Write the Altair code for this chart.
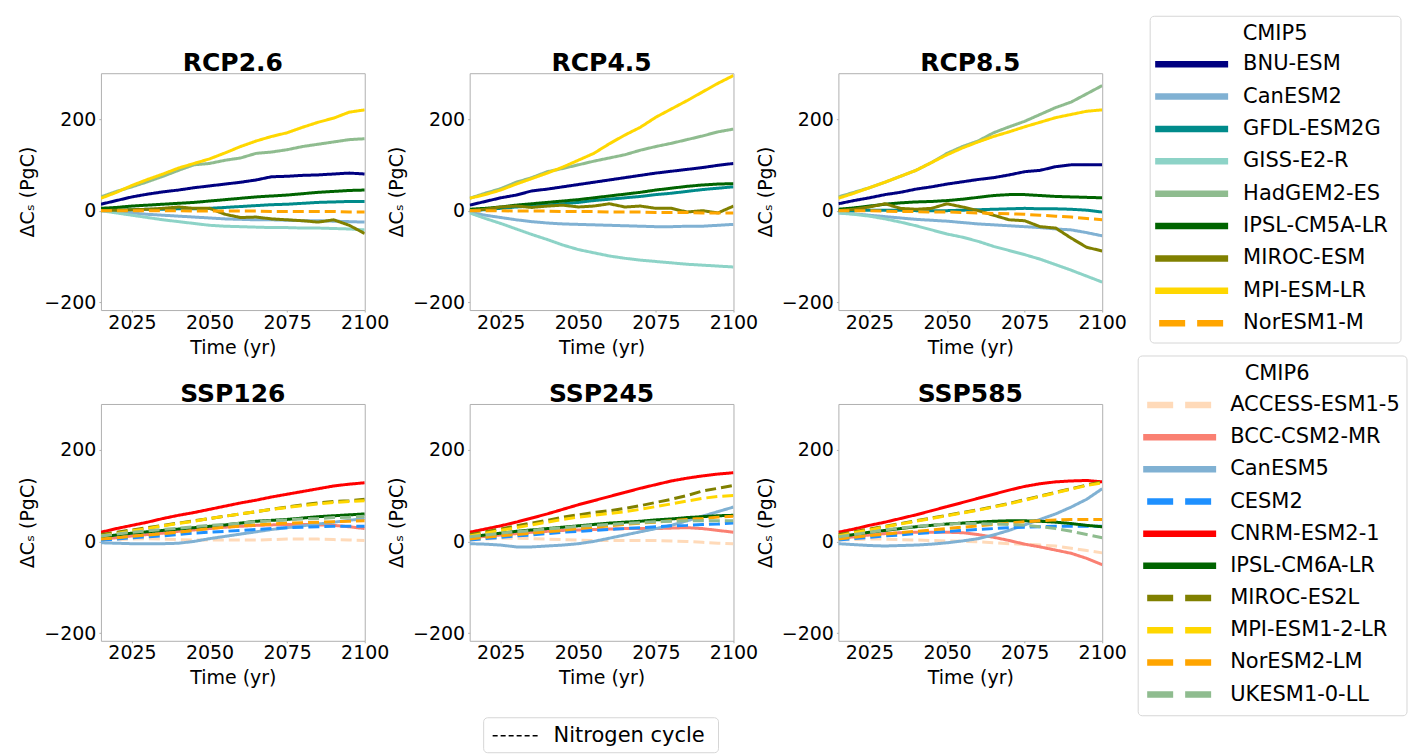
import altair as alt
import pandas as pd

years = list(range(2015, 2101, 5))

cmip5_models = ["BNU-ESM", "CanESM2", "GFDL-ESM2G", "GISS-E2-R", "HadGEM2-ES",
                "IPSL-CM5A-LR", "MIROC-ESM", "MPI-ESM-LR", "NorESM1-M"]
cmip5_colors = ["#000080", "#80b1d3", "#008b8b", "#8dd3c7", "#8fbc8f",
                "#006400", "#808000", "#ffd700", "#ffa500"]
cmip5_dashed = ["NorESM1-M"]

cmip6_models = ["ACCESS-ESM1-5", "BCC-CSM2-MR", "CanESM5", "CESM2", "CNRM-ESM2-1",
                "IPSL-CM6A-LR", "MIROC-ES2L", "MPI-ESM1-2-LR", "NorESM2-LM", "UKESM1-0-LL"]
cmip6_colors = ["#ffdab9", "#fa8072", "#80b1d3", "#1e90ff", "#ff0000",
                "#006400", "#808000", "#ffd700", "#ffa500", "#8fbc8f"]
cmip6_dashed = ["ACCESS-ESM1-5", "CESM2", "MIROC-ES2L", "MPI-ESM1-2-LR", "NorESM2-LM", "UKESM1-0-LL"]

rcp26 = {
    "BNU-ESM":      [14, 22, 30, 36, 41, 45, 50, 54, 58, 62, 67, 74, 75, 77, 78, 80, 82, 80],
    "CanESM2":      [0, -3, -5, -8, -10, -12, -14, -16, -18, -19, -20, -20, -21, -22, -22, -23, -24, -25],
    "GFDL-ESM2G":   [0, 1, 2, 3, 3, 4, 4, 5, 7, 9, 11, 13, 14, 16, 18, 19, 20, 20],
    "GISS-E2-R":    [0, -5, -10, -15, -20, -24, -28, -32, -34, -35, -36, -37, -37, -38, -38, -39, -40, -42],
    "HadGEM2-ES":   [30, 42, 52, 63, 75, 88, 100, 103, 110, 115, 125, 128, 133, 140, 145, 150, 155, 157],
    "IPSL-CM5A-LR": [5, 7, 10, 12, 14, 16, 18, 21, 24, 27, 30, 32, 34, 37, 40, 42, 44, 45],
    "MIROC-ESM":    [0, 1, 2, 3, 5, 8, 5, 5, -8, -15, -14, -18, -20, -22, -25, -20, -32, -50],
    "MPI-ESM-LR":   [27, 40, 55, 68, 80, 93, 103, 113, 126, 140, 152, 162, 170, 182, 193, 202, 215, 220],
    "NorESM1-M":    [0, 0, 0, 0, 0, 0, -1, -1, -1, -1, -1, -2, -2, -2, -2, -2, -3, -3],
}
rcp45 = {
    "BNU-ESM":      [12, 20, 28, 34, 43, 47, 52, 57, 62, 67, 72, 77, 82, 86, 90, 94, 99, 103],
    "CanESM2":      [-3, -10, -15, -20, -24, -27, -29, -30, -31, -32, -33, -34, -35, -35, -34, -34, -32, -30],
    "GFDL-ESM2G":   [0, 2, 5, 8, 10, 12, 15, 18, 22, 25, 28, 31, 35, 38, 42, 46, 49, 52],
    "GISS-E2-R":    [-5, -17, -28, -40, -52, -63, -75, -85, -92, -99, -104, -108, -111, -114, -117, -119, -121, -123],
    "HadGEM2-ES":   [27, 38, 48, 62, 72, 85, 92, 100, 108, 115, 122, 132, 140, 147, 155, 163, 172, 178],
    "IPSL-CM5A-LR": [3, 5, 8, 12, 15, 18, 21, 24, 28, 32, 36, 40, 45, 49, 53, 56, 58, 59],
    "MIROC-ESM":    [0, 3, 8, 10, 7, 10, 12, 8, 10, 15, 8, 10, 5, 5, -3, 0, -5, 10],
    "MPI-ESM-LR":   [27, 35, 45, 58, 70, 82, 95, 110, 125, 146, 165, 182, 204, 222, 240, 259, 278, 295],
    "NorESM1-M":    [0, 0, 0, -1, -1, -1, -2, -2, -2, -3, -3, -3, -4, -4, -4, -5, -5, -5],
}
rcp85 = {
    "BNU-ESM":      [15, 22, 28, 35, 40, 47, 52, 58, 63, 68, 72, 78, 85, 88, 96, 100, 100, 100],
    "CanESM2":      [-5, -7, -10, -13, -16, -19, -21, -23, -26, -29, -31, -33, -35, -37, -40, -42, -48, -55],
    "GFDL-ESM2G":   [0, 0, 1, 1, 1, 0, 0, 0, 1, 2, 3, 4, 5, 4, 4, 3, 1, -3],
    "GISS-E2-R":    [-5, -8, -12, -18, -25, -33, -42, -51, -58, -67, -78, -87, -96, -106, -118, -130, -143, -156],
    "HadGEM2-ES":   [30, 40, 50, 62, 75, 88, 105, 125, 140, 152, 170, 183, 195, 210, 225, 237, 255, 273],
    "IPSL-CM5A-LR": [3, 6, 10, 14, 17, 19, 20, 22, 25, 29, 33, 35, 35, 33, 31, 30, 29, 28],
    "MIROC-ESM":    [0, 3, 8, 15, 5, 3, 5, 15, 8, 0, -10, -20, -22, -35, -38, -60, -80, -88],
    "MPI-ESM-LR":   [27, 38, 50, 62, 75, 88, 105, 122, 137, 150, 162, 172, 183, 193, 203, 210, 217, 220],
    "NorESM1-M":    [0, 0, 0, -1, -2, -2, -3, -3, -4, -5, -6, -7, -8, -10, -12, -14, -17, -20],
}
ssp126 = {
    "ACCESS-ESM1-5": [3, 4, 5, 6, 5, 4, 3, 3, 3, 3, 3, 4, 5, 5, 5, 4, 3, 2],
    "BCC-CSM2-MR":   [5, 8, 12, 15, 18, 22, 25, 28, 31, 33, 35, 36, 37, 37, 36, 35, 32, 28],
    "CanESM5":       [-3, -4, -5, -5, -5, -4, 0, 6, 11, 16, 21, 26, 30, 34, 38, 42, 46, 50],
    "CESM2":         [3, 5, 8, 10, 12, 15, 18, 20, 22, 24, 26, 28, 30, 31, 32, 33, 33, 33],
    "CNRM-ESM2-1":   [20, 28, 35, 42, 50, 57, 63, 70, 77, 84, 90, 97, 103, 109, 115, 121, 125, 128],
    "IPSL-CM6A-LR":  [10, 14, 18, 21, 24, 27, 30, 33, 36, 40, 44, 46, 48, 51, 54, 56, 58, 60],
    "MIROC-ES2L":    [15, 20, 25, 30, 35, 40, 45, 50, 55, 60, 65, 70, 75, 80, 84, 87, 89, 92],
    "MPI-ESM1-2-LR": [12, 17, 23, 28, 34, 39, 44, 50, 55, 60, 65, 70, 74, 78, 82, 85, 87, 89],
    "NorESM2-LM":    [5, 8, 11, 14, 17, 20, 24, 28, 31, 34, 36, 38, 40, 41, 42, 43, 44, 45],
    "UKESM1-0-LL":   [12, 16, 20, 23, 26, 29, 32, 35, 37, 40, 43, 45, 47, 49, 50, 52, 53, 55],
}
ssp245 = {
    "ACCESS-ESM1-5": [3, 5, 7, 7, 6, 5, 4, 3, 2, 2, 2, 2, 2, 1, 0, -2, -4, -5],
    "BCC-CSM2-MR":   [8, 11, 14, 17, 20, 22, 24, 25, 26, 27, 28, 28, 28, 29, 30, 28, 24, 20],
    "CanESM5":       [-5, -6, -8, -12, -12, -10, -8, -5, 0, 7, 14, 21, 28, 35, 45, 55, 65, 75],
    "CESM2":         [3, 6, 9, 12, 14, 17, 20, 22, 24, 26, 28, 30, 32, 34, 35, 37, 38, 40],
    "CNRM-ESM2-1":   [20, 27, 34, 42, 51, 60, 70, 80, 89, 98, 107, 116, 124, 132, 138, 143, 147, 150],
    "IPSL-CM6A-LR":  [10, 14, 18, 22, 25, 28, 31, 34, 37, 40, 42, 44, 47, 49, 52, 54, 56, 57],
    "MIROC-ES2L":    [15, 21, 27, 34, 40, 46, 53, 58, 63, 67, 72, 78, 85, 92, 100, 110, 116, 122],
    "MPI-ESM1-2-LR": [12, 18, 24, 30, 36, 42, 48, 53, 57, 61, 65, 70, 76, 82, 88, 94, 98, 100],
    "NorESM2-LM":    [5, 9, 12, 15, 18, 21, 24, 28, 31, 34, 37, 40, 42, 45, 48, 50, 53, 55],
    "UKESM1-0-LL":   [10, 14, 18, 21, 24, 27, 30, 33, 35, 37, 39, 41, 43, 44, 45, 45, 45, 45],
}
ssp585 = {
    "ACCESS-ESM1-5": [3, 4, 5, 5, 4, 3, 2, 1, 0, -1, -3, -5, -6, -8, -10, -15, -20, -25],
    "BCC-CSM2-MR":   [6, 10, 14, 17, 19, 20, 20, 20, 19, 15, 9, 2, -6, -12, -19, -26, -37, -51],
    "CanESM5":       [-5, -7, -9, -10, -9, -8, -6, -3, 1, 6, 14, 24, 36, 48, 60, 75, 92, 115],
    "CESM2":         [3, 6, 9, 12, 14, 17, 19, 22, 24, 26, 28, 30, 31, 32, 33, 33, 33, 33],
    "CNRM-ESM2-1":   [20, 27, 35, 42, 50, 58, 67, 76, 85, 94, 103, 112, 120, 126, 130, 132, 133, 130],
    "IPSL-CM6A-LR":  [10, 15, 20, 24, 28, 32, 35, 38, 40, 42, 44, 45, 45, 44, 42, 39, 35, 32],
    "MIROC-ES2L":    [15, 21, 27, 33, 39, 45, 51, 57, 63, 69, 76, 83, 91, 99, 107, 115, 123, 130],
    "MPI-ESM1-2-LR": [12, 19, 25, 32, 38, 44, 50, 56, 62, 68, 75, 82, 90, 98, 106, 114, 122, 128],
    "NorESM2-LM":    [5, 9, 13, 16, 19, 22, 25, 28, 31, 34, 37, 40, 43, 45, 47, 48, 48, 48],
    "UKESM1-0-LL":   [10, 15, 20, 25, 29, 33, 36, 38, 39, 39, 38, 37, 35, 32, 28, 22, 15, 8],
}

panel_titles = ["RCP2.6", "RCP4.5", "RCP8.5", "SSP126", "SSP245", "SSP585"]
x_ticks = [2025, 2050, 2075, 2100]
y_ticks = [-200, 0, 200]

FONT = "DejaVu Sans"
all_models = cmip5_models + cmip6_models
all_colors = cmip5_colors + cmip6_colors
PW, PH = 264, 237
TITLE = dict(font=FONT, fontSize=25, fontWeight="bold", color="black")


def panel(title, series, models, dashed, with_title=True):
    rows = []
    for m in models:
        for yr, v in zip(years, series[m]):
            rows.append({"year": yr, "value": v, "model": m,
                         "style": "dashed" if m in dashed else "solid"})
    df = pd.DataFrame(rows)
    ch = alt.Chart(df).mark_line(strokeWidth=3, clip=True).encode(
        x=alt.X("year:Q", scale=alt.Scale(domain=[2015, 2100], nice=False, zero=False),
                axis=alt.Axis(values=x_ticks, title="Time (yr)", format="d", labelPadding=1,
                              labelFlush=False, labelOverlap=False, titlePadding=6)),
        y=alt.Y("value:Q", scale=alt.Scale(domain=[-217, 300], nice=False, zero=False),
                axis=alt.Axis(values=y_ticks, title="ΔCₛ (PgC)", labelFlush=False, labelPadding=3,
                              labelOverlap=False, titlePadding=6)),
        color=alt.Color("model:N", scale=alt.Scale(domain=all_models, range=all_colors), legend=None),
        strokeDash=alt.StrokeDash("style:N", scale=alt.Scale(domain=["solid", "dashed"],
                                                             range=[[1, 0], [11, 5]]), legend=None),
    ).properties(width=PW, height=PH)
    if with_title:
        ch = ch.properties(title=alt.TitleParams(title, offset=0, dy=3, **TITLE))
    return ch


# ---- legends, laid out in pixel units relative to the RCP8.5 plot area ----
LX = alt.Scale(domain=[0, PW], nice=False, zero=False)
LY = alt.Scale(domain=[0, PH], nice=False, zero=False, reverse=True)
DX = 300  # offset from RCP8.5 plot left to the legend column

boxes = pd.DataFrame({"x0": [DX + 12, DX + 0, DX - 655], "x1": [DX + 263, DX + 269, DX - 420],
                      "y0": [-57, 283, 645], "y1": [270, 643, 680]})
box_layer = alt.Chart(boxes).mark_rect(cornerRadius=4, fill="white", stroke="#d6d6d6",
                                       strokeWidth=1).encode(
    x=alt.X("x0:Q", scale=LX, axis=None), x2="x1:Q",
    y=alt.Y("y0:Q", scale=LY, axis=None), y2="y1:Q")

titles = pd.DataFrame({"x": [DX + 137, DX + 139], "y": [-39, 301], "t": ["CMIP5", "CMIP6"]})
title_layer = alt.Chart(titles).mark_text(font=FONT, fontSize=21, color="black",
                                          align="center", baseline="middle").encode(
    x=alt.X("x:Q", scale=LX, axis=None), y=alt.Y("y:Q", scale=LY, axis=None), text="t:N")

p3_title = pd.DataFrame({"x": [PW / 2], "y": [-2], "t": [panel_titles[2]]})
p3_title_layer = alt.Chart(p3_title).mark_text(align="center", baseline="alphabetic", **TITLE).encode(
    x=alt.X("x:Q", scale=LX, axis=None), y=alt.Y("y:Q", scale=LY, axis=None), text="t:N")

entries = []
for i, (m, c) in enumerate(zip(cmip5_models, cmip5_colors)):
    d = m in cmip5_dashed
    entries.append({"label": m, "color": c, "dashed": d, "y": -9 + 32.4 * i,
                    "lx0": DX + 17 + (4 if d else 0), "lx1": DX + 90 - (4 if d else 0), "tx": DX + 105})
for i, (m, c) in enumerate(zip(cmip6_models, cmip6_colors)):
    d = m in cmip6_dashed
    entries.append({"label": m, "color": c, "dashed": d, "y": 332 + 32.2 * i,
                    "lx0": DX + 5 + (4 if d else 0), "lx1": DX + 78 - (4 if d else 0), "tx": DX + 92})
ent = pd.DataFrame(entries)

solid_layer = alt.Chart(ent[~ent["dashed"]]).mark_rule(strokeWidth=6.5).encode(
    x=alt.X("lx0:Q", scale=LX, axis=None), x2="lx1:Q",
    y=alt.Y("y:Q", scale=LY, axis=None), color=alt.Color("color:N", scale=None))
dashed_layer = alt.Chart(ent[ent["dashed"]]).mark_rule(strokeWidth=6.5, strokeDash=[26, 12]).encode(
    x=alt.X("lx0:Q", scale=LX, axis=None), x2="lx1:Q",
    y=alt.Y("y:Q", scale=LY, axis=None), color=alt.Color("color:N", scale=None))
text_layer = alt.Chart(ent).mark_text(font=FONT, fontSize=21, color="black",
                                      align="left", baseline="middle").encode(
    x=alt.X("tx:Q", scale=LX, axis=None), y=alt.Y("y:Q", scale=LY, axis=None), text="label:N")

nitro = pd.DataFrame({"x0": [DX - 646], "x1": [DX - 601], "y": [663], "tx": [DX - 585],
                      "t": ["Nitrogen cycle"]})
nitro_line = alt.Chart(nitro).mark_rule(strokeWidth=1.5, strokeDash=[5, 3], color="black").encode(
    x=alt.X("x0:Q", scale=LX, axis=None), x2="x1:Q", y=alt.Y("y:Q", scale=LY, axis=None))
nitro_text = alt.Chart(nitro).mark_text(font=FONT, fontSize=21, color="black",
                                        align="left", baseline="middle").encode(
    x=alt.X("tx:Q", scale=LX, axis=None), y=alt.Y("y:Q", scale=LY, axis=None), text="t:N")

legend = alt.layer(box_layer, title_layer, p3_title_layer, solid_layer, dashed_layer, text_layer,
                   nitro_line, nitro_text)

p3 = alt.layer(panel(panel_titles[2], rcp85, cmip5_models, cmip5_dashed, with_title=False),
               legend).resolve_scale(x="independent", y="independent")

chart = alt.concat(
    panel(panel_titles[0], rcp26, cmip5_models, cmip5_dashed),
    panel(panel_titles[1], rcp45, cmip5_models, cmip5_dashed),
    p3,
    panel(panel_titles[3], ssp126, cmip6_models, cmip6_dashed),
    panel(panel_titles[4], ssp245, cmip6_models, cmip6_dashed),
    panel(panel_titles[5], ssp585, cmip6_models, cmip6_dashed),
    columns=3, spacing={"row": 94, "column": 105}, bounds="flush",
).properties(
    padding={"left": 18, "top": 15, "right": 0, "bottom": 0},
    background="white",
).configure(font=FONT).configure_view(stroke="#b0b0b0", strokeWidth=1).configure_axis(
    labelFont=FONT, titleFont=FONT, labelFontSize=19, titleFontSize=19,
    titleFontWeight="normal", labelColor="black", titleColor="black",
    tickColor="#b0b0b0", tickSize=2, domain=False, grid=False,
)

chart.save("out.html", embed_options={"renderer": "svg", "actions": False})
